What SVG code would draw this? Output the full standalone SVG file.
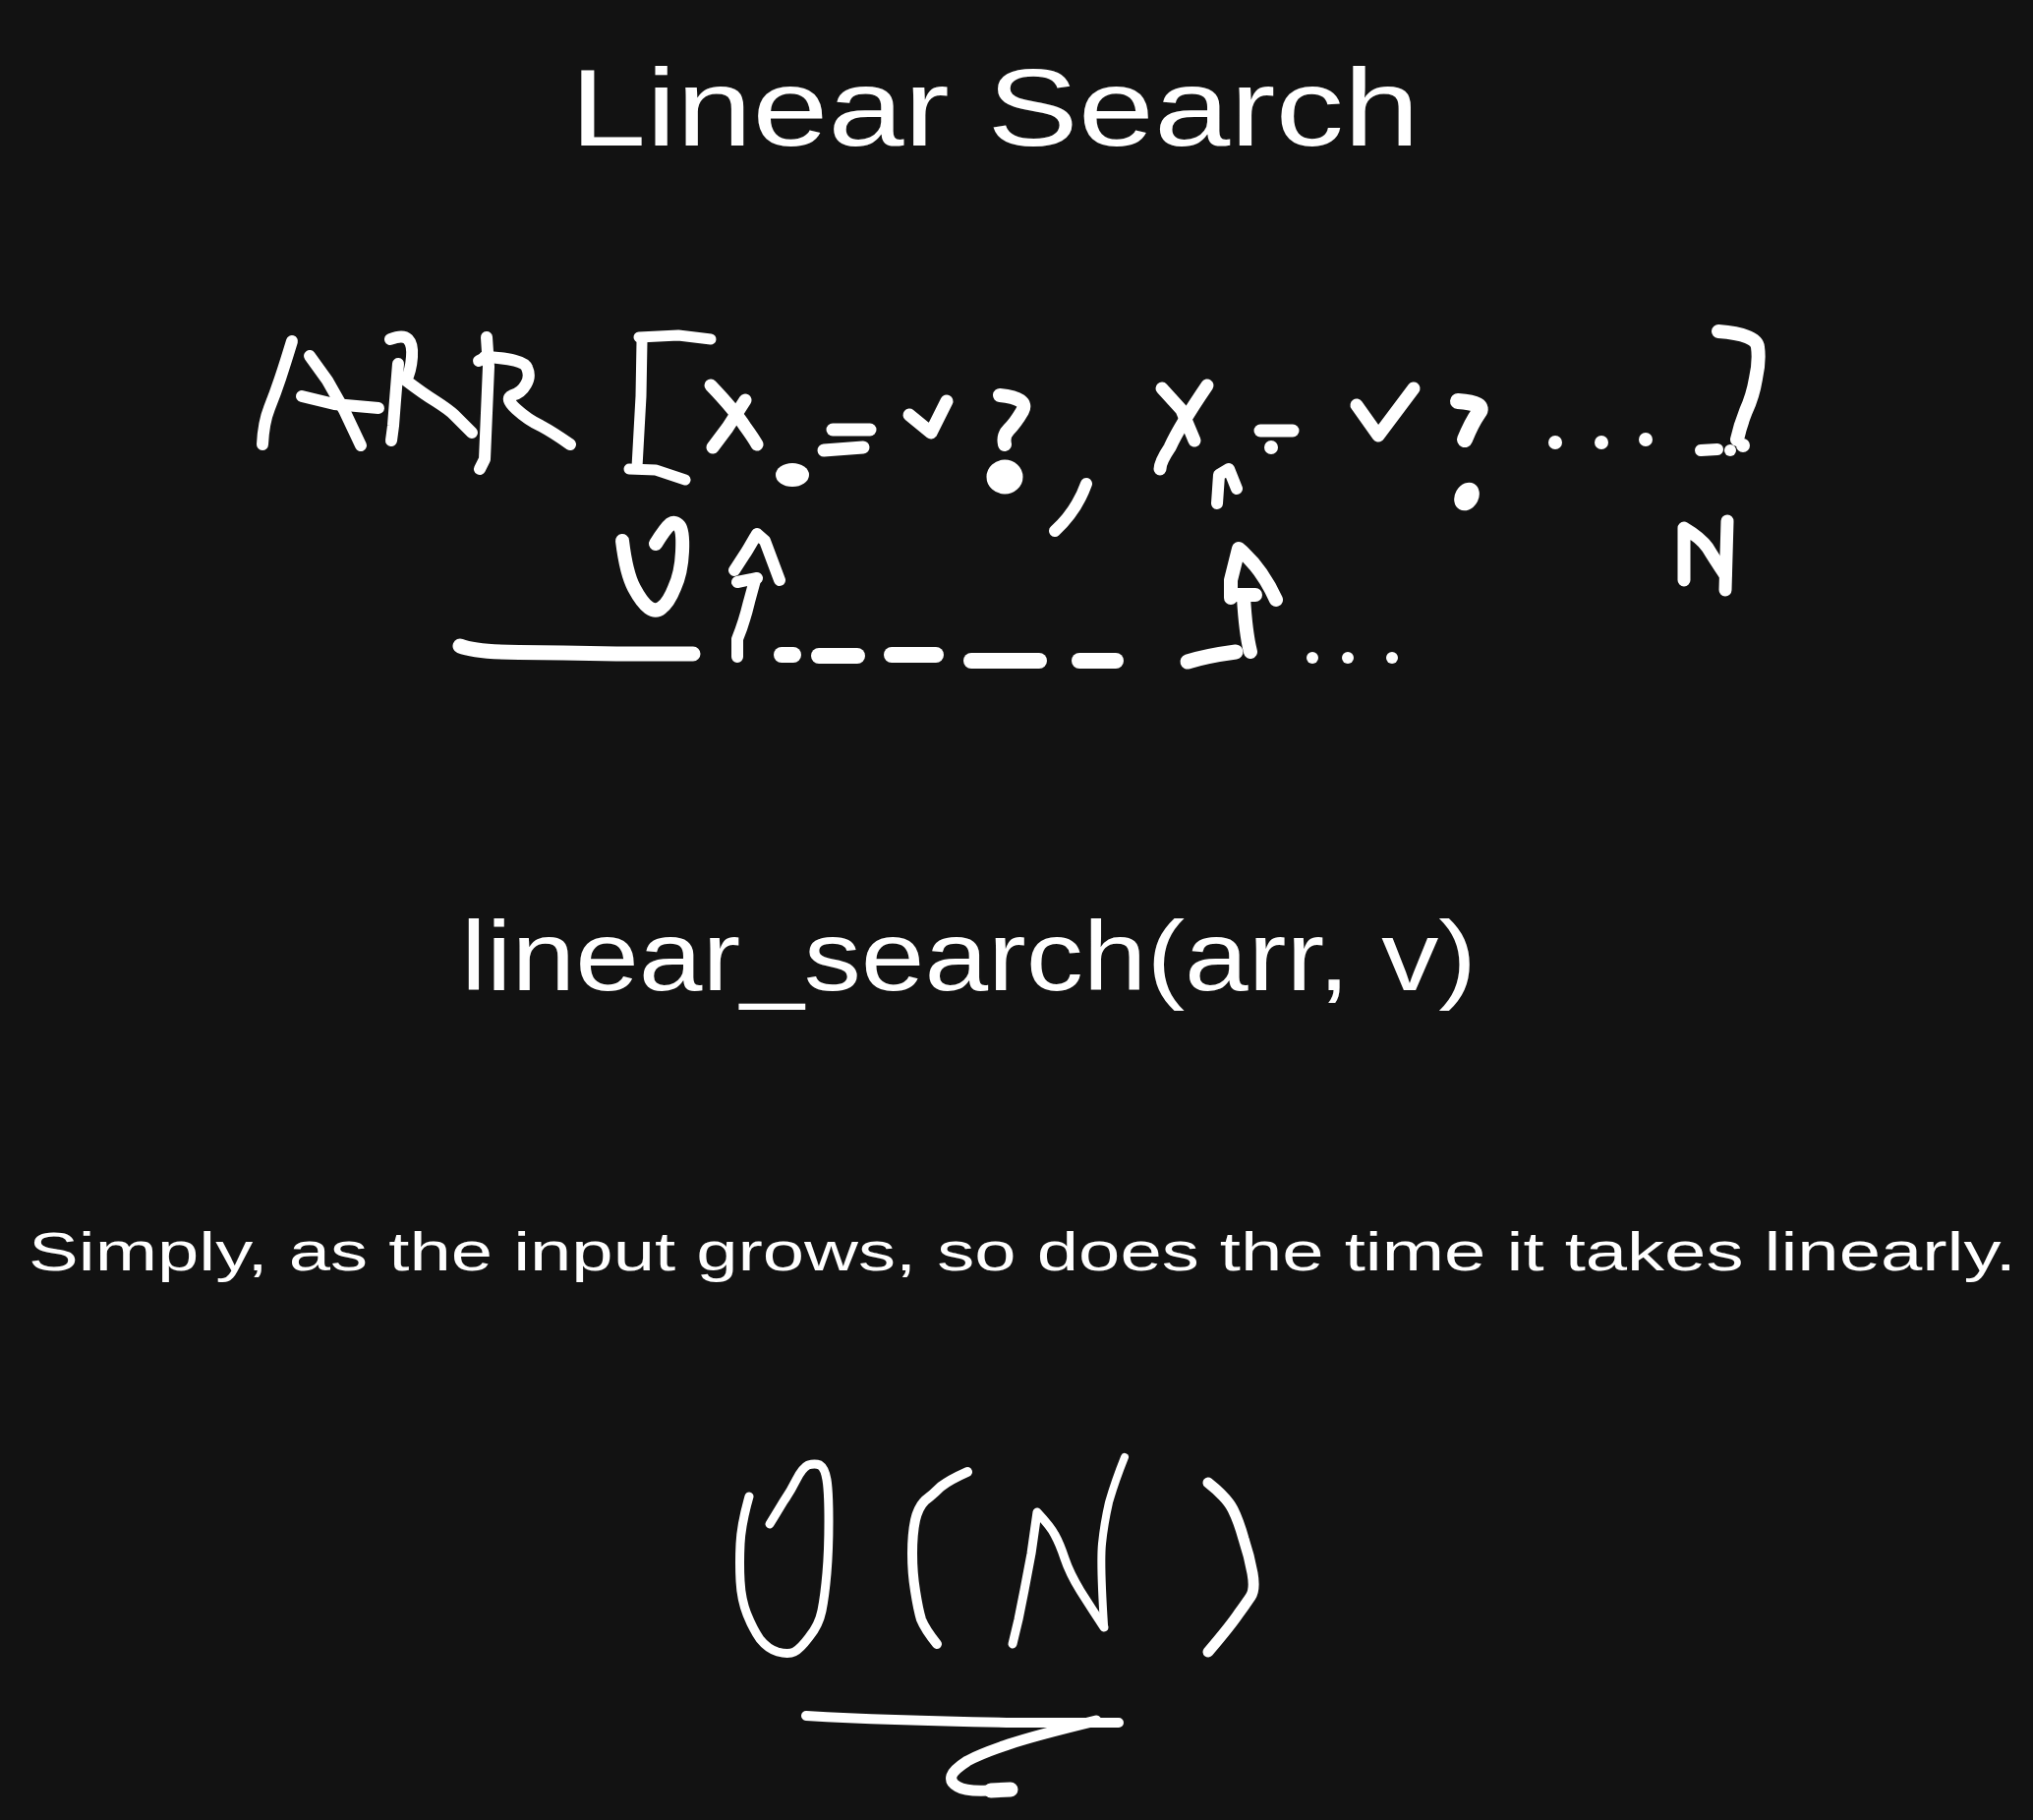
<svg xmlns="http://www.w3.org/2000/svg" width="2068" height="1851" viewBox="0 0 2068 1851">
<style>
.s{fill:none;stroke:#ffffff;stroke-linecap:round;stroke-linejoin:round}
.f{fill:#ffffff}
.t{fill:#ffffff;font-family:"Liberation Sans","Noto Sans",sans-serif}
</style>
<rect x="0" y="0" width="2068" height="1851" fill="#121212"/>
<g id="title"><text class="t" x="580" y="148" font-size="112" textLength="864" lengthAdjust="spacingAndGlyphs">Linear Search</text></g>
<g id="array-sketch">
<g id="arr-word" class="s" stroke-width="12">
<path d="M297,347 Q290,370 285,385 Q280,400 274,415 Q268,430 267,452"/>
<path d="M315,362 L333,387 L350,417 L367,453"/>
<path d="M307,403 L340,411 L385,415"/>
<path d="M405,370 L402,407 L400,433 L398,448"/>
<path d="M397,345 Q410,340 415,345 Q420,350 419,363 Q418,377 413,387 Q430,400 443,408 Q457,417 462,422 Q467,427 480,440"/>
<path d="M495,343 L497,373 L495,420 L493,467 L488,477"/>
<path d="M487,367 L497,362"/>
<path d="M493,363 Q533,365 536,374 Q540,383 535,391 Q530,400 521,402 Q513,405 525,416 Q537,427 550,433 Q563,440 580,452"/>
</g>
<g id="open-bracket" class="s" stroke-width="11">
<path d="M650,343 L690,341 L723,345"/>
<path d="M653,347 L652,403 L648,475"/>
<path d="M640,477 L667,478 L697,488"/>
</g>
<g id="x0" class="s" stroke-width="13">
<path d="M723,392 Q747,417 758,434 Q766,445 770,452"/>
<path d="M758,407 L740,435 L725,455"/>
<ellipse class="f" stroke="none" cx="806" cy="483" rx="17" ry="12"/>
<path d="M847,437 L885,437"/>
<path d="M838,458 L878,455"/>
<path d="M925,422 L947,440 L963,408"/>
<path d="M1017,402 Q1047,405 1040,418 Q1033,430 1026,437 Q1020,443 1022,452" stroke-width="14"/>
<ellipse class="f" cx="1022" cy="485" rx="12" ry="11"/>
<path d="M1105,492 Q1095,520 1073,540" stroke-width="12"/>
</g>
<g id="x1" class="s" stroke-width="13">
<path d="M1182,395 L1202,417 L1215,448"/>
<path d="M1228,392 Q1200,433 1190,455 Q1180,470 1180,477"/>
<path d="M1238,512 L1240,483 L1250,477 L1258,497" stroke-width="12"/>
<path d="M1282,438 L1315,438"/>
<circle class="f" cx="1293" cy="455" r="7" stroke="none"/>
<path d="M1380,412 L1402,443 L1438,395"/>
<path d="M1483,408 Q1512,410 1504,420 Q1497,430 1490,447" stroke-width="16"/>
<ellipse class="f" stroke="none" cx="1492" cy="505" rx="12" ry="15" transform="rotate(30 1492 505)"/>
</g>
<g id="ellipsis-bracket">
<circle class="f" cx="1582" cy="450" r="7"/>
<circle class="f" cx="1629" cy="450" r="7"/>
<circle class="f" cx="1674" cy="447" r="7"/>
<path class="s" stroke-width="14" d="M1748,337 Q1787,340 1788,353 Q1790,367 1786,385 Q1783,403 1776,418 Q1770,433 1767,447"/>
<path class="s" stroke-width="12" d="M1730,458 L1747,457"/>
<circle class="f" cx="1760" cy="458" r="6"/>
<circle class="f" cx="1773" cy="453" r="7"/>
</g>
<g id="index-n" class="s" stroke-width="13">
<path d="M1713,590 L1713,537 Q1730,547 1737,557 Q1743,567 1755,585"/>
<path d="M1755,600 L1757,530"/>
</g>
<g id="index-0" class="s" stroke-width="14">
<path d="M633,550 Q637,583 645,598 Q653,613 660,618 Q667,623 673,618 Q680,613 686,598 Q693,583 694,561 Q695,540 691,535 Q687,530 682,533 Q677,537 667,553"/>
</g>
<g id="pointer-1" class="s" stroke-width="12">
<path d="M750,668 L750,650 Q757,633 762,612 L768,590"/>
<path d="M747,580 L760,560 L770,543 L778,550 L793,590"/>
<path d="M750,592 L770,588"/>
</g>
<g id="scan-line" class="s" stroke-width="15">
<path d="M468,657 Q483,663 528,663.5 L573,664 L627,665 L705,665"/>
<path d="M795,666 L807,666" stroke-width="16"/>
<path d="M833,667 L872,667" stroke-width="16"/>
<path d="M907,666 L952,666" stroke-width="16"/>
<path d="M988,672 L1057,672" stroke-width="16"/>
<path d="M1098,672 L1135,672" stroke-width="16"/>
<path d="M1208,673 Q1227,667 1257,663"/>
</g>
<g id="pointer-2" class="s" stroke-width="14">
<path d="M1272,663 Q1267,643 1265,607"/>
<path d="M1252,608 L1252,590 L1260,558 Q1283,577 1298,610"/>
<path d="M1255,605 L1277,605"/>
</g>
<g id="scan-dots">
<circle class="f" cx="1335" cy="669" r="6"/>
<circle class="f" cx="1371" cy="669" r="6"/>
<circle class="f" cx="1416" cy="669" r="6"/>
</g>
</g>
<g id="function"><text class="t" x="469" y="1007" font-size="100" textLength="1033" lengthAdjust="spacingAndGlyphs">linear_search(arr, v)</text></g>
<g id="explanation"><text class="t" x="29" y="1292" font-size="56" textLength="2022" lengthAdjust="spacingAndGlyphs">Simply, as the input grows, so does the time it takes linearly.</text></g>
<g id="big-o" class="s" stroke-width="9">
<path d="M762,1522 Q754,1550 753,1570 Q752,1590 753,1608 Q754,1627 760,1642 Q766,1657 773,1667 Q781,1677 791,1680 Q802,1683 808,1680 Q814,1677 823,1665 Q833,1653 836,1638 Q839,1623 841,1600 Q843,1577 843,1547 Q843,1517 841,1505 Q839,1493 834,1490 Q829,1488 822,1490 Q816,1493 810,1505 Q804,1517 797,1527 Q791,1537 783,1550"/>
<path d="M984,1497 Q966,1505 957,1512 Q949,1520 941,1526 Q934,1533 931,1546 Q928,1560 928,1580 Q928,1600 931,1618 Q934,1637 937,1647 Q941,1657 953,1672" stroke-width="10"/>
<path d="M1030,1672 L1036,1647 L1042,1617 L1049,1580 L1055,1538 Q1069,1553 1073,1561 Q1078,1570 1083,1585 Q1088,1600 1099,1618 Q1111,1637 1123,1655"/>
<path d="M1123,1653 Q1119,1590 1121,1570 Q1123,1550 1128,1528 Q1134,1507 1144,1482" stroke-width="8"/>
<path d="M1229,1508 Q1248,1523 1254,1535 Q1260,1547 1265,1565 Q1271,1583 1274,1600 Q1277,1617 1272,1624 Q1268,1630 1260,1641 Q1252,1653 1229,1680" stroke-width="11"/>
<path d="M820,1745 Q907,1750 1032,1752 L1138,1752" stroke-width="10"/>
<path d="M1115,1750 Q1053,1765 1026,1774 Q999,1783 984,1791 Q970,1800 968,1806 Q966,1813 974,1817 Q982,1822 1005,1821 L1028,1820" stroke-width="11"/>
<path d="M1008,1821 L1028,1820" stroke-width="15"/>
</g>
</svg>
